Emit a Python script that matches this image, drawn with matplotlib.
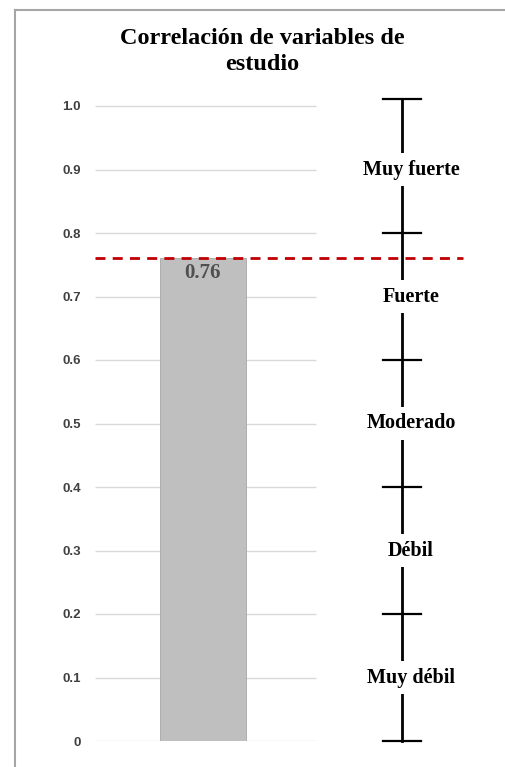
import matplotlib.pyplot as plt
from matplotlib.lines import Line2D

# data
valor = 0.76
ticks = [0, 0.1, 0.2, 0.3, 0.4, 0.5, 0.6, 0.7, 0.8, 0.9, 1.0]
tick_labels = ['0', '0.1', '0.2', '0.3', '0.4', '0.5', '0.6', '0.7', '0.8', '0.9', '1.0']
niveles = ['Muy débil', 'Débil', 'Moderado', 'Fuerte', 'Muy fuerte']
niveles_y = [0.1, 0.3, 0.5, 0.7, 0.9]
cortes = [0.2, 0.4, 0.6, 0.8]
titulo = ['Correlación de variables de', 'estudio']

fig = plt.figure(figsize=(5.06, 7.67), dpi=100)
ax = fig.add_axes([95/506, 26/767, 375/506, 1.02*635/767])
ax.set_xlim(0, 1)
ax.set_ylim(0, 1.02)

# gridlines (only under the bar area)
ax.hlines(ticks, 0, 0.59, color='#d9d9d9', lw=1, zorder=0)

# bar
ax.bar([0.288], [valor], width=0.229, color='#bfbfbf', edgecolor='#a6a6a6', lw=0.6, zorder=2)
ax.text(0.288, valor - 0.008, '0.76', ha='center', va='top', fontsize=15,
        family='Liberation Serif', weight='bold', color='#505050', zorder=3)

# dashed line at the value
ax.plot([0, 0.98], [valor, valor], color='#c00000', lw=2, dashes=(3.6, 2.6), zorder=4)

# right scale
xs = 0.819
ax.plot([xs, xs], [0, 1.011], color='black', lw=2, zorder=1, clip_on=False)
for yv in [0, 1.011] + cortes:
    ax.plot([xs - 0.05, xs + 0.05], [yv, yv], color='black', lw=1.6, zorder=1, clip_on=False)
for lab, yv in zip(niveles, niveles_y):
    ax.text(xs + 0.024, yv, lab, ha='center', va='center', fontsize=14.5, family='Liberation Serif',
            weight='bold', color='black', zorder=5,
            bbox=dict(facecolor='white', edgecolor='none', pad=5))

ax.set_yticks(ticks)
ax.set_yticklabels(tick_labels, family='Liberation Sans', weight='bold', fontsize=9.5, color='#404040')
ax.tick_params(axis='y', length=0, pad=10)
ax.set_xticks([])
for s in ax.spines.values():
    s.set_visible(False)

fig.text(262/506, 1 - 38/767, titulo[0], ha='center', va='center',
         fontsize=17.5, family='Liberation Serif', weight='bold')
fig.text(262/506, 1 - 65/767, titulo[1], ha='center', va='center',
         fontsize=17.5, family='Liberation Serif', weight='bold')

# outer frame of the picture
fig.add_artist(Line2D([15/506, 15/506], [0, 1 - 10/767], color='#a6a6a6', lw=1.5))
fig.add_artist(Line2D([15/506, 1], [1 - 10/767, 1 - 10/767], color='#a6a6a6', lw=1.5))

fig.savefig('out.png', dpi=100)
